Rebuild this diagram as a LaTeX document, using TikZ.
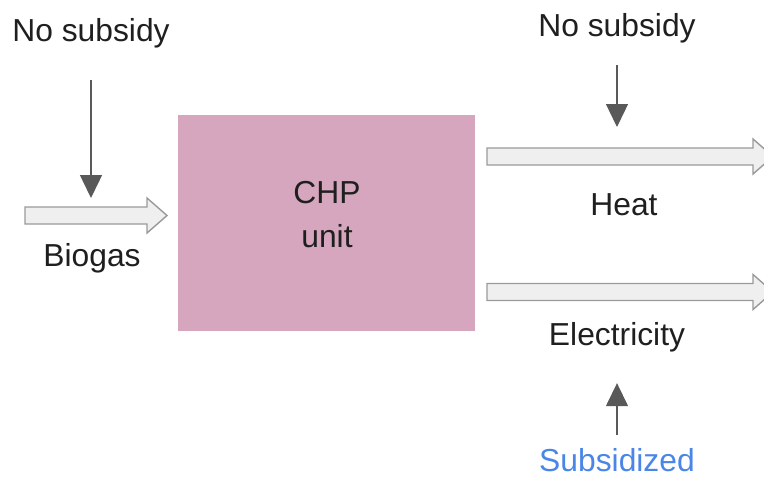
\documentclass[tikz,border=0pt]{standalone}
\usepackage{fontspec}
\setmainfont{Liberation Sans}
\usepackage{tikz}
\usetikzlibrary{arrows.meta}
\definecolor{chppink}{HTML}{D5A6BD}
\definecolor{flowfill}{HTML}{EFEFEF}
\definecolor{flowline}{HTML}{9A9A9A}
\definecolor{tipgray}{HTML}{595959}
\definecolor{subblue}{HTML}{4A86E8}

% block arrow: start x, head start x, tip x, centre y
\newcommand{\flowarrow}[4]{%
  \draw[flow] (#1,#4-8.5) -- (#2,#4-8.5) -- (#2,#4-17.5) -- (#3,#4)
    -- (#2,#4+17.5) -- (#2,#4+8.5) -- (#1,#4+8.5) -- cycle;}

\begin{document}
\begin{tikzpicture}[x=0.02cm, y=-0.02cm,
		lbl/.style={inner sep=0pt, font=\fontsize{18.1}{25}\selectfont, text=black!88},
		flow/.style={draw=flowline, fill=flowfill, line width=0.8pt, line join=miter},
		feed/.style={-{Triangle[length=0.46cm, width=0.44cm]},
					line width=0.8pt, color=tipgray}
	]
		\useasboundingbox (0,0) rectangle (764,477);
		\clip (0,0) rectangle (764,477);

		\node[fill=chppink, minimum width=5.94cm, minimum height=4.32cm] (chp) at (326.5,223) {};
		\node[lbl, align=center] (chplbl) at (327,215) {CHP\\unit};

		\flowarrow{25}{147}{167}{215.5}
		\flowarrow{487}{753}{773}{156.5}
		\flowarrow{487}{753}{773}{292}

		\node[lbl] (ns1) at (91,33) {No subsidy};
		\node[lbl] (biogas) at (92,258) {Biogas};
		\node[lbl] (ns2) at (617,28) {No subsidy};
		\node[lbl] (heat) at (624,205) {Heat};
		\node[lbl] (elec) at (617,337) {Electricity};
		\node[lbl, text=subblue] (sub) at (617,460) {Subsidized};

		\coordinate (bgtop) at (91,198);
		\coordinate (heattop) at (617,127);

		\draw[feed, shorten <=0.64cm] (ns1.south) -- (bgtop);
		\draw[feed, shorten <=0.44cm] (ns2.south) -- (heattop);
		\draw[feed, shorten <=0.26cm, shorten >=0.62cm] (sub.north) -- (elec.south);
	\end{tikzpicture}
\end{document}
